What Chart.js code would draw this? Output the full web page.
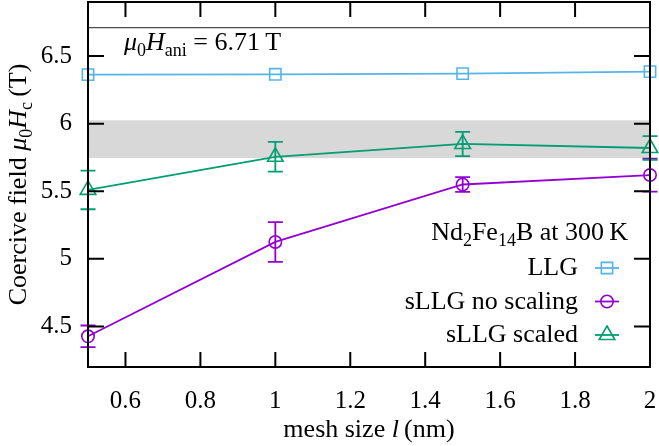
<!DOCTYPE html>
<html>
<head>
<meta charset="utf-8">
<script src="https://cdn.jsdelivr.net/npm/chart.js@4/dist/chart.umd.min.js"></script>
<style>
    html, body { margin: 0; padding: 0; background: #fff; }
    #wrap { width: 659px; height: 446px; position: relative; }
</style>
</head>
<body>
<div id="wrap"><canvas id="chart"></canvas></div>
<script>
// mesh sizes (nm)
const meshSizes = [0.5, 1, 1.5, 2];

// coercive field (T) per method
const llgValues     = [6.363, 6.365, 6.37, 6.385];
const noScaleValues = [4.427, 5.125, 5.55, 5.62];
const noScaleErr    = [0.08, 0.147, 0.055, 0.122];
const scaledValues  = [5.51, 5.755, 5.85, 5.82];
const scaledErr     = [0.143, 0.11, 0.09, 0.088];

const xTicks = [0.6, 0.8, 1, 1.2, 1.4, 1.6, 1.8, 2];
const yTicks = [4.5, 5, 5.5, 6, 6.5];

// shaded reference band and anisotropy field
const bandRange = [5.745, 6.025];
const anisotropyField = 6.71;

const FONT = "'Liberation Serif', 'DejaVu Serif', serif";
const FS = 25;      // tick labels
const TS = 26;      // titles, key, annotation

Chart.defaults.font.family = FONT;
Chart.defaults.color = '#000';

function toPoints(values) {
    return meshSizes.map((x, i) => ({ x: x, y: values[i] }));
}

function fontFor(style, size) {
    if (style === 'sub') return Math.round(size * 0.7) + 'px ' + FONT;
    if (style === 'i') return 'italic ' + size + 'px ' + FONT;
    return size + 'px ' + FONT;
}

// draws a run of text pieces: '' plain, 'i' italic, 'sub' subscript
function richWidth(ctx, parts, size) {
    let w = 0;
    parts.forEach(([t, s]) => {
        ctx.font = fontFor(s, size);
        w += ctx.measureText(t).width;
    });
    return w;
}

function drawRich(ctx, parts, x, y, size, align) {
    const total = richWidth(ctx, parts, size);
    let cx = align === 'center' ? x - total / 2 : align === 'right' ? x - total : x;
    ctx.textAlign = 'left';
    ctx.textBaseline = 'alphabetic';
    parts.forEach(([t, s]) => {
        ctx.font = fontFor(s, size);
        const dy = s === 'sub' ? size * 0.22 : 0;
        ctx.fillText(t, cx, y + dy);
        cx += ctx.measureText(t).width;
    });
}

const decorPlugin = {
    id: 'decor',
    beforeDatasetsDraw(chart) {
        const { ctx, chartArea: a, scales: { y } } = chart;
        ctx.save();
        const top = y.getPixelForValue(bandRange[1]);
        const bot = y.getPixelForValue(bandRange[0]);
        ctx.fillStyle = '#d8d8d8';
        ctx.fillRect(a.left, top, a.right - a.left, bot - top);

        const hy = y.getPixelForValue(anisotropyField);
        ctx.strokeStyle = '#4a4a4a';
        ctx.lineWidth = 1.3;
        ctx.beginPath();
        ctx.moveTo(a.left, hy);
        ctx.lineTo(a.right, hy);
        ctx.stroke();
        ctx.restore();
    },
    afterDatasetsDraw(chart) {
        const { ctx, scales: { x, y } } = chart;
        ctx.save();
        chart.data.datasets.forEach(ds => {
            if (!ds.errors) return;
            ctx.strokeStyle = ds.borderColor;
            ctx.lineWidth = 1.8;
            ds.data.forEach((p, i) => {
                const px = x.getPixelForValue(p.x);
                const y1 = y.getPixelForValue(p.y + ds.errors[i]);
                const y2 = y.getPixelForValue(p.y - ds.errors[i]);
                ctx.beginPath();
                ctx.moveTo(px, y1); ctx.lineTo(px, y2);
                ctx.moveTo(px - 7.5, y1); ctx.lineTo(px + 7.5, y1);
                ctx.moveTo(px - 7.5, y2); ctx.lineTo(px + 7.5, y2);
                ctx.stroke();
            });
        });
        ctx.restore();
    },
    afterDraw(chart) {
        const { ctx, chartArea: a, scales: { x, y } } = chart;
        ctx.save();

        // frame and inward ticks on all four sides
        ctx.strokeStyle = '#000';
        ctx.lineWidth = 2;
        ctx.strokeRect(a.left, a.top, a.right - a.left, a.bottom - a.top);
        ctx.beginPath();
        xTicks.forEach(v => {
            const px = x.getPixelForValue(v);
            ctx.moveTo(px, a.bottom); ctx.lineTo(px, a.bottom - 15);
            ctx.moveTo(px, a.top);    ctx.lineTo(px, a.top + 15);
        });
        yTicks.forEach(v => {
            const py = y.getPixelForValue(v);
            ctx.moveTo(a.left, py);  ctx.lineTo(a.left + 16, py);
            ctx.moveTo(a.right, py); ctx.lineTo(a.right - 16, py);
        });
        ctx.stroke();

        ctx.fillStyle = '#000';
        const midX = (a.left + a.right) / 2;
        const midY = (a.top + a.bottom) / 2;

        drawRich(ctx, [['mesh size ', ''], ['l', 'i'], ['\u2009(nm)', '']], midX, 437, TS, 'center');

        ctx.save();
        ctx.translate(26, midY);
        ctx.rotate(-Math.PI / 2);
        drawRich(ctx, [['Coercive field ', ''], ['\u03bc', 'i'], ['0', 'sub'], ['H', 'i'], ['c', 'sub'], ['\u2009(T)', '']], 0, 0, TS, 'center');
        ctx.restore();

        drawRich(ctx, [['\u03bc', 'i'], ['0', 'sub'], ['H', 'i'], ['ani', 'sub'], [' = 6.71\u2009T', '']], 124, 50, TS, 'left');

        // key
        drawRich(ctx, [['Nd', ''], ['2', 'sub'], ['Fe', ''], ['14', 'sub'], ['B at 300\u2009K', '']], 628, 240, TS, 'right');
        chart.data.datasets.forEach((ds, i) => {
            const base = 275 + i * 33.5;
            ctx.fillStyle = '#000';
            drawRich(ctx, [[ds.label, '']], 578, base, TS, 'right');
            const ly = base - 7;
            ctx.strokeStyle = ds.borderColor;
            ctx.fillStyle = 'rgba(0,0,0,0)';
            ctx.lineWidth = ds.borderWidth;
            ctx.beginPath();
            ctx.moveTo(595, ly); ctx.lineTo(619, ly);
            ctx.stroke();
            ctx.lineWidth = ds.pointBorderWidth;
            Chart.helpers.drawPoint(ctx, {
                pointStyle: ds.pointStyle,
                radius: ds.pointRadius,
                rotation: 0,
                borderWidth: ds.pointBorderWidth,
            }, 607, ly);
        });
        ctx.restore();
    },
};

function series(label, values, errors, color, style, radius) {
    return {
        label: label,
        data: toPoints(values),
        errors: errors,
        borderColor: color,
        backgroundColor: 'rgba(0,0,0,0)',
        borderWidth: 1.8,
        pointStyle: style,
        pointRadius: radius,
        pointBorderWidth: 1.6,
        pointBorderColor: color,
        pointBackgroundColor: 'rgba(0,0,0,0)',
        tension: 0,
        clip: false,
    };
}

new Chart(document.getElementById('chart'), {
    type: 'line',
    data: {
        datasets: [
            series('LLG', llgValues, null, '#56b4e9', 'rect', 8),
            series('sLLG no scaling', noScaleValues, noScaleErr, '#9400d3', 'circle', 6.2),
            series('sLLG scaled', scaledValues, scaledErr, '#009e73', 'triangle', 9),
        ],
    },
    options: {
        responsive: true,
        maintainAspectRatio: false,
        animation: false,
        layout: { autoPadding: false, padding: { left: 0, top: 2, right: 9, bottom: 0 } },
        plugins: { legend: { display: false }, tooltip: { enabled: false } },
        scales: {
            x: {
                type: 'linear',
                min: 0.5,
                max: 2,
                grid: { display: false, drawTicks: false },
                border: { display: false },
                ticks: { font: { size: FS }, padding: 19, autoSkip: false, maxRotation: 0, callback: v => String(v) },
                afterBuildTicks: s => { s.ticks = xTicks.map(v => ({ value: v })); },
                afterFit: s => { s.height = 79; s.paddingLeft = 0; s.paddingRight = 0; },
            },
            y: {
                type: 'linear',
                min: 4.2,
                max: 6.9,
                grid: { display: false, drawTicks: false },
                border: { display: false },
                ticks: { font: { size: FS }, padding: 16, autoSkip: false, callback: v => String(v) },
                afterBuildTicks: s => { s.ticks = yTicks.map(v => ({ value: v })); },
                afterFit: s => { s.width = 88; s.paddingTop = 0; s.paddingBottom = 0; },
            },
        },
    },
    plugins: [decorPlugin],
});
</script>
</body>
</html>
